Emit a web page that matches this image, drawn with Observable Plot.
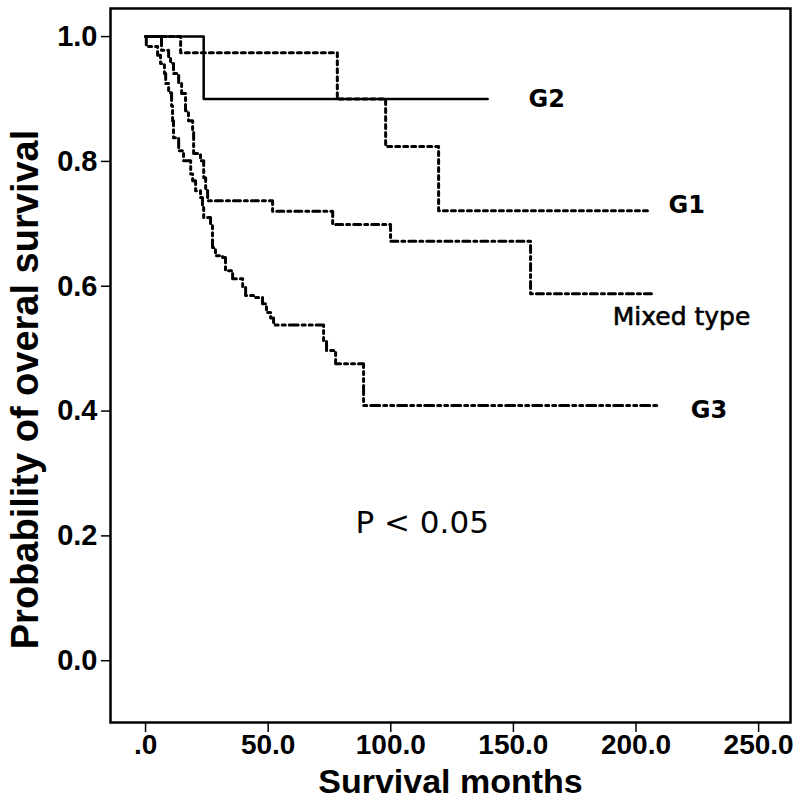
<!DOCTYPE html>
<html>
<head>
<meta charset="utf-8">
<script src="https://cdn.jsdelivr.net/npm/d3@7"></script>
<script src="https://cdn.jsdelivr.net/npm/@observablehq/plot@0.6"></script>
<style>
  html, body { margin: 0; padding: 0; background: #fff; }
  #chart { width: 800px; height: 800px; }
</style>
</head>
<body>
<div id="chart"></div>
<script>
// Kaplan–Meier step data: [month, survival after that month]
const g2Months = [0, 23.7, 139.5];
const g2Surv   = [1.0, 0.90, 0.90];

const g1Months = [0, 14.3, 78.2, 97.9, 119.5, 204.7];
const g1Surv   = [1.0, 0.974, 0.90, 0.824, 0.721, 0.721];

const mixedMonths = [0, 6.5, 9.4, 10.2, 11.4, 13.5, 14.7, 16.3, 17.5, 19.2, 19.6, 22.4, 23.7, 24.5, 25.3, 51.8, 76.3, 99.9, 157.0, 206.8];
const mixedSurv   = [1.0, 0.978, 0.965, 0.957, 0.941, 0.925, 0.909, 0.881, 0.865, 0.849, 0.8125, 0.801, 0.774, 0.754, 0.737, 0.720, 0.699, 0.672, 0.588, 0.588];

const g3Months = [0, 0.3, 4.9, 6.1, 7.7, 8.2, 9.4, 10.6, 11.0, 11.4, 13.5, 15.5, 18.4, 19.2, 20.4, 22.4, 23.2, 23.7, 26.5, 27.3, 28.5, 31.4, 32.6, 35.5, 39.6, 40.8, 44.9, 47.7, 49.3, 51.0, 52.2, 72.6, 73.8, 77.5, 88.9, 208.8];
const g3Surv   = [1.0, 0.984, 0.970, 0.957, 0.941, 0.925, 0.910, 0.889, 0.865, 0.838, 0.817, 0.801, 0.780, 0.769, 0.753, 0.742, 0.726, 0.710, 0.700, 0.662, 0.649, 0.646, 0.625, 0.612, 0.598, 0.585, 0.582, 0.572, 0.558, 0.549, 0.538, 0.513, 0.497, 0.476, 0.409, 0.409];

const xTicks = [0, 50, 100, 150, 200, 250];
const yTicks = [0, 0.2, 0.4, 0.6, 0.8, 1.0];

const groupNames  = ["G2", "G1", "Mixed type", "G3"];
const labelMonths = [156.2, 213.3, 190.5, 222.3];
const labelSurv   = [0.90, 0.729, 0.550, 0.401];

const pText  = "P < 0.05";
const pMonth = 85.6;
const pSurv  = 0.221;

const xTitle = "Survival months";
const yTitle = "Probability of overal survival";

const toRows = (ms, ss) => ms.map((m, i) => ({month: m, surv: ss[i]}));
const g2 = toRows(g2Months, g2Surv);
const g1 = toRows(g1Months, g1Surv);
const mixed = toRows(mixedMonths, mixedSurv);
const g3 = toRows(g3Months, g3Surv);
const labels = groupNames.map((n, i) => ({name: n, month: labelMonths[i], surv: labelSurv[i]}));

const fmtX = d => d === 0 ? ".0" : d.toFixed(1);
const fmtY = d => d.toFixed(1);
const labelFont = "'DejaVu Sans', 'Noto Sans', sans-serif";

const chart = Plot.plot({
  width: 800,
  height: 800,
  marginLeft: 110,
  marginRight: 10,
  marginTop: 8,
  marginBottom: 78,
  style: {fontFamily: "'Liberation Sans', Arial, sans-serif", background: "#fff", color: "#000", overflow: "visible"},
  x: {domain: [-14.3, 263]},
  y: {domain: [-0.099, 1.045]},
  marks: [
    Plot.frame({stroke: "#000", strokeWidth: 2.5}),
    Plot.axisY({ticks: yTicks, tickFormat: fmtY, tickSize: 9, tickPadding: 4, fontSize: 29, fontWeight: "bold", label: null, strokeWidth: 1.5}),
    Plot.axisX({ticks: xTicks, tickFormat: fmtX, tickSize: 10, tickPadding: 2, fontSize: 28, fontWeight: "bold", label: null, strokeWidth: 1.5}),
    Plot.text([xTitle], {frameAnchor: "bottom", lineAnchor: "middle", dy: 60, fontSize: 34, fontWeight: "bold", textAnchor: "middle", fill: "#000"}),
    Plot.text([yTitle], {frameAnchor: "left", lineAnchor: "middle", dx: -85, dy: 24, rotate: -90, fontSize: 38, fontWeight: "bold", textAnchor: "middle", fill: "#000"}),
    Plot.line(g2, {x: "month", y: "surv", curve: "step-after", stroke: "#000", strokeWidth: 2.5}),
    Plot.line(g1, {x: "month", y: "surv", curve: "step-after", stroke: "#000", strokeWidth: 3, strokeDasharray: "4,4"}),
    Plot.line(mixed, {x: "month", y: "surv", curve: "step-after", stroke: "#000", strokeWidth: 3, strokeDasharray: "7,4,3,4"}),
    Plot.line(g3, {x: "month", y: "surv", curve: "step-after", stroke: "#000", strokeWidth: 3, strokeDasharray: "9,4,3,4,3,4"}),
    Plot.text(labels.filter(d => d.name !== "Mixed type"), {x: "month", y: "surv", text: "name", textAnchor: "start", fontSize: 24, fontWeight: "bold", fontFamily: labelFont, fill: "#000"}),
    Plot.text(labels.filter(d => d.name === "Mixed type"), {x: "month", y: "surv", text: "name", textAnchor: "start", fontSize: 25, fontFamily: labelFont, fill: "#000", stroke: "#000", strokeWidth: 0.6}),
    Plot.text([{t: pText, month: pMonth, surv: pSurv}], {x: "month", y: "surv", text: "t", textAnchor: "start", fontSize: 31, fontFamily: labelFont, fill: "#000"})
  ]
});
document.getElementById("chart").appendChild(chart);
</script>
</body>
</html>
